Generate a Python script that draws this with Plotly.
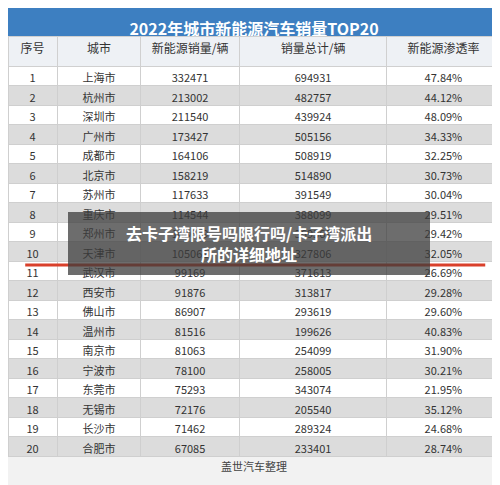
import plotly.graph_objects as go

rank = list(range(1, 21))
cities = ["上海市", "杭州市", "深圳市", "广州市", "成都市", "北京市", "苏州市", "重庆市", "郑州市", "天津市",
          "武汉市", "西安市", "佛山市", "温州市", "南京市", "宁波市", "东莞市", "无锡市", "长沙市", "合肥市"]
nev_sales = [332471, 213002, 211540, 173427, 164106, 158219, 117633, 114544, 108669, 105062,
             99169, 91876, 86907, 81516, 81063, 78100, 75293, 72176, 71462, 67085]
total_sales = [694931, 482757, 439924, 505156, 508919, 514890, 391549, 388099, 369369, 327806,
               371613, 313817, 293619, 199626, 254099, 258005, 343074, 205540, 289324, 233401]
penetration = ["47.84%", "44.12%", "48.09%", "34.33%", "32.25%", "30.73%", "30.04%", "29.51%", "29.42%", "32.05%",
               "26.69%", "29.28%", "29.60%", "40.83%", "31.90%", "30.21%", "21.95%", "35.12%", "24.68%", "28.74%"]
headers = ["序号", "城市", "新能源销量/辆", "销量总计/辆", "新能源渗透率"]
title = "2022年城市新能源汽车销量TOP20"

# page has an 8px body margin, so size the figure to the visible area
W, H = 492, 477
row_fill = ["#ffffff" if i % 2 == 0 else "#dcdcdc" for i in range(20)]

fig = go.Figure()
fig.add_trace(go.Table(
    domain=dict(x=[0, 1], y=[1 - 455 / H, 1 - 28 / H]),
    columnwidth=[50, 85, 100, 150, 115],
    header=dict(values=headers, height=30, fill_color="#eef1f5",
                line_color="#d0d0d0", font=dict(size=12, color="#333", family="Noto Sans CJK SC")),
    cells=dict(values=[rank, cities, nev_sales, total_sales, penetration], height=19.5,
               fill_color=[row_fill] * 5, line_color="#cfcfcf",
               font=dict(size=11, color="#333", family="Noto Sans CJK SC")),
))
fig.add_trace(go.Table(
    domain=dict(x=[0, 1], y=[1 - 28 / H, 1]),
    header=dict(values=[f"<b>{title}</b>"], height=28, fill_color="#3d7fc1", line_color="#3d7fc1",
                font=dict(size=16, color="white", family="Noto Sans CJK SC")),
    cells=dict(values=[[""]], height=1, fill_color="#3d7fc1", line_color="#3d7fc1"),
))

fig.add_shape(type="line", xref="paper", yref="paper", x0=0.035, x1=0.97, y0=1 - 257 / H, y1=1 - 257 / H,
              line=dict(color="#d9402b", width=3))
fig.add_shape(type="rect", xref="paper", yref="paper", x0=60 / W, x1=422 / W, y0=1 - 267 / H, y1=1 - 204 / H,
              fillcolor="rgba(60,60,60,0.75)", line_width=0)
fig.add_annotation(text="<b>去卡子湾限号吗限行吗/卡子湾派出<br>所的详细地址</b>", xref="paper", yref="paper",
                   x=241 / W, y=1 - 235 / H, showarrow=False, align="center",
                   font=dict(size=16, color="white", family="Noto Sans CJK SC"))
fig.add_annotation(text="盖世汽车整理", xref="paper", yref="paper", x=0.5, y=1 - 468 / H,
                   showarrow=False, font=dict(size=11, color="#444", family="Noto Sans CJK SC"))

fig.update_layout(width=W, height=H, margin=dict(l=0, r=0, t=0, b=0), paper_bgcolor="#f2f2f2")
fig.write_html("out.html")
